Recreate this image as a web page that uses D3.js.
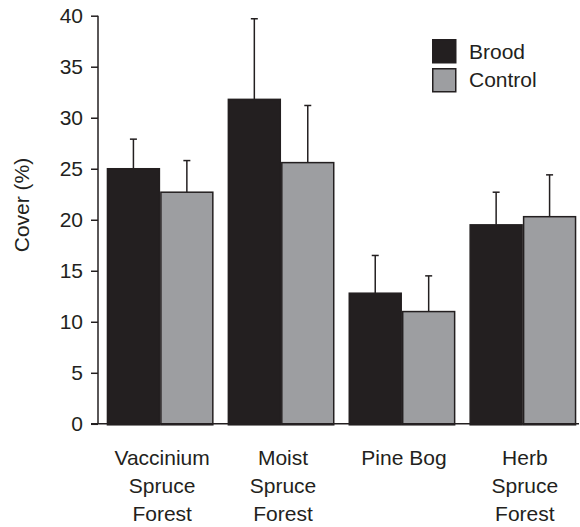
<!DOCTYPE html>
<html>
<head>
<meta charset="utf-8">
<script src="https://cdn.jsdelivr.net/npm/d3@7"></script>
<style>
  html, body { margin: 0; padding: 0; background: #fff; }
  svg { display: block; font-family: "Liberation Sans", Arial, sans-serif; }
</style>
</head>
<body>
<svg id="chart" width="580" height="527"></svg>
<script>
// Habitat types (multi-line labels)
const categories = ["Vaccinium Spruce Forest", "Moist Spruce Forest", "Pine Bog", "Herb Spruce Forest"];
const categoryLines = [["Vaccinium", "Spruce", "Forest"], ["Moist", "Spruce", "Forest"], ["Pine Bog"], ["Herb", "Spruce", "Forest"]];
const seriesNames = ["Brood", "Control"];
// Mean cover (%) and upper error values
const broodMean = [25.0, 31.8, 12.8, 19.5];
const broodErr = [2.9, 7.9, 3.7, 3.2];
const controlMean = [22.7, 25.6, 11.0, 20.3];
const controlErr = [3.1, 5.6, 3.5, 4.1];
const yTicks = [0, 5, 10, 15, 20, 25, 30, 35, 40];

const colors = { Brood: "#231f20", Control: "#9d9ea1" };
const ink = "#231f20";
const fontSize = 21;

const svg = d3.select("#chart");

const y = d3.scaleLinear().domain([0, 40]).range([423.8, 15.7]);
const x0 = d3.scaleBand().domain(categories).range([106.7, 576.3]).paddingInner(0.116).paddingOuter(0);
const x1 = d3.scaleBand().domain(seriesNames).range([0, x0.bandwidth()]).padding(0);

const rows = categories.map((c, i) => ({
  cat: c,
  values: [
    { s: "Brood", v: broodMean[i], e: broodErr[i] },
    { s: "Control", v: controlMean[i], e: controlErr[i] }
  ]
}));

// Error bars (drawn first so bars cover their lower part)
const errG = svg.append("g").attr("stroke", ink).attr("stroke-width", 1.5).attr("fill", "none");
rows.forEach(r => {
  r.values.forEach(d => {
    const cx = x0(r.cat) + x1(d.s) + x1.bandwidth() / 2;
    errG.append("line").attr("x1", cx).attr("x2", cx).attr("y1", y(d.v)).attr("y2", y(d.v + d.e));
    errG.append("line").attr("x1", cx - 3.5).attr("x2", cx + 3.5).attr("y1", y(d.v + d.e)).attr("y2", y(d.v + d.e));
  });
});

// Bars
const groups = svg.append("g").selectAll("g").data(rows).join("g")
  .attr("transform", d => `translate(${x0(d.cat)},0)`);
groups.selectAll("rect").data(d => d.values).join("rect")
  .attr("x", d => x1(d.s) + 0.75)
  .attr("width", x1.bandwidth() - 1.5)
  .attr("y", d => y(d.v))
  .attr("height", d => y(0) - y(d.v) + 1)
  .attr("fill", d => colors[d.s])
  .attr("stroke", ink)
  .attr("stroke-width", 1.5);

// Y axis
const yAxis = d3.axisLeft(y).tickValues(yTicks).tickSize(7).tickPadding(8).tickFormat(d3.format("d"));
const yg = svg.append("g").attr("transform", "translate(98,0)").call(yAxis);
yg.select(".domain").attr("stroke", ink).attr("stroke-width", 1.5).attr("d", `M0,${y(40)}V${y(0)}`);
yg.selectAll(".tick line").attr("stroke", ink).attr("stroke-width", 1.5);
yg.selectAll(".tick text").attr("font-size", fontSize).attr("fill", ink)
  .attr("font-family", "Liberation Sans, Arial, sans-serif");

// X baseline
svg.append("line").attr("x1", 91).attr("x2", 579).attr("y1", y(0)).attr("y2", y(0))
  .attr("stroke", ink).attr("stroke-width", 1.5);

// Category labels
const labG = svg.append("g").attr("font-size", fontSize).attr("fill", ink).attr("text-anchor", "middle");
categories.forEach((c, i) => {
  const cx = x0(c) + x0.bandwidth() / 2 + 2;
  categoryLines[i].forEach((t, j) => {
    labG.append("text").attr("x", cx).attr("y", 465 + j * 28).text(t);
  });
});

// Y axis title
svg.append("text").attr("transform", "translate(29,205) rotate(-90)")
  .attr("text-anchor", "middle").attr("font-size", fontSize).attr("fill", ink).text("Cover (%)");

// Legend
const leg = svg.append("g").attr("transform", "translate(432,39)");
seriesNames.forEach((s, i) => {
  leg.append("rect").attr("x", 0.75).attr("y", i * 29 + 0.75).attr("width", 23).attr("height", 23)
    .attr("fill", colors[s]).attr("stroke", ink).attr("stroke-width", 1.5);
  leg.append("text").attr("x", 37).attr("y", i * 28 + 20).attr("font-size", fontSize).attr("fill", ink).text(s);
});
</script>
</body>
</html>
